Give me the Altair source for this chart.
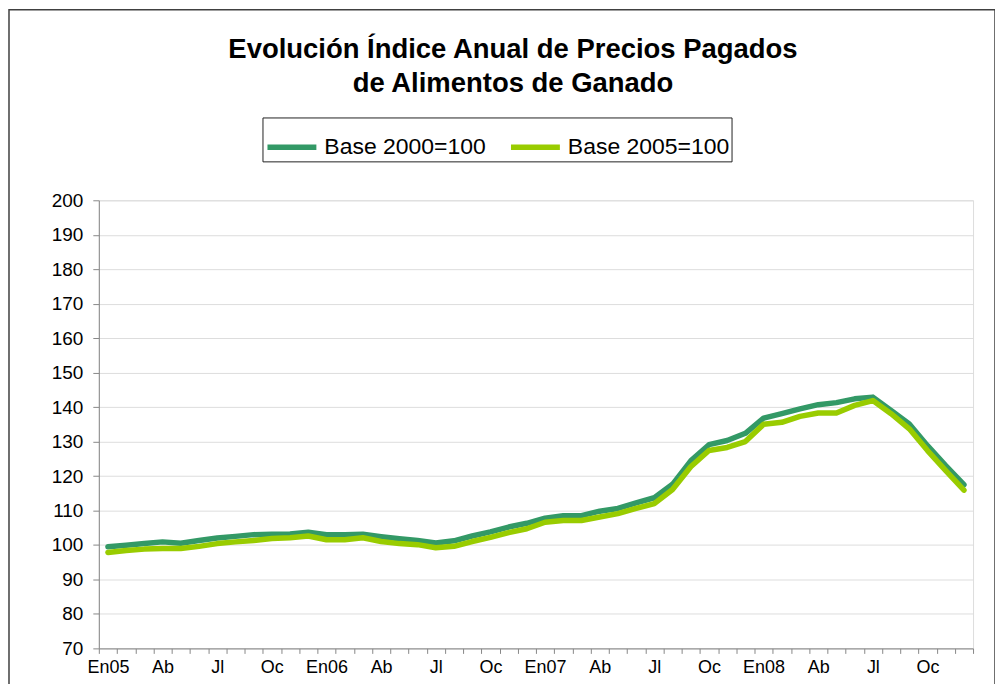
import altair as alt
import pandas as pd

# 48 monthly categories, Jan 2005 - Dec 2008
month_abbr = ["En", "Fb", "Mr", "Ab", "My", "Jn", "Jl", "Ag", "Sp", "Oc", "Nv", "Dc"]
years = ["05", "06", "07", "08"]
categories = [m + y for y in years for m in month_abbr]

# tick labels shown on the axis (category -> text)
label_categories = ["En05", "Ab05", "Jl05", "Oc05", "En06", "Ab06", "Jl06", "Oc06",
                    "En07", "Ab07", "Jl07", "Oc07", "En08", "Ab08", "Jl08", "Oc08"]
tick_labels = ["En05", "Ab", "Jl", "Oc", "En06", "Ab", "Jl", "Oc",
               "En07", "Ab", "Jl", "Oc", "En08", "Ab", "Jl", "Oc"]

series_names = ["Base 2000=100", "Base 2005=100"]

base2000 = [99.5, 99.9, 100.4, 100.9, 100.5, 101.3, 102.0, 102.5, 103.0, 103.1, 103.2, 103.7,
            103.0, 103.0, 103.1, 102.4, 101.8, 101.3, 100.6, 101.2, 102.6, 103.8, 105.2, 106.3,
            107.8, 108.5, 108.5, 109.8, 110.6, 112.2, 113.7, 117.6, 124.4, 129.1, 130.3, 132.4,
            136.8, 138.1, 139.5, 140.7, 141.3, 142.4, 142.9, 139.0, 135.1, 128.8, 123.0, 117.5]

base2005 = [97.8, 98.4, 98.8, 99.0, 99.0, 99.6, 100.4, 100.9, 101.3, 101.9, 102.1, 102.6,
            101.5, 101.5, 102.1, 101.0, 100.4, 100.1, 99.2, 99.6, 101.0, 102.2, 103.6, 104.7,
            106.6, 107.1, 107.1, 108.1, 109.1, 110.6, 112.0, 116.1, 122.7, 127.4, 128.3, 130.0,
            135.0, 135.6, 137.3, 138.3, 138.3, 140.5, 141.9, 138.1, 133.7, 127.4, 121.6, 115.9]

y_ticks = [70, 80, 90, 100, 110, 120, 130, 140, 150, 160, 170, 180, 190, 200]
colors = ["#339966", "#99CC00"]

rows = []
for name, vals in zip(series_names, [base2000, base2005]):
    for c, v in zip(categories, vals):
        rows.append({"mes": c, "serie": name, "valor": v})
df = pd.DataFrame(rows)

label_expr = " : ".join(
    f"datum.value == '{k}' ? '{v}'" for k, v in zip(label_categories, tick_labels)
) + " : ''"

FONT = "Liberation Sans, Arial, sans-serif"

lines = alt.Chart(df).mark_line(strokeWidth=5.5, strokeJoin="round", strokeCap="round").encode(
    x=alt.X("mes:N", sort=categories, bandPosition=0.5,
            scale=alt.Scale(type="band", paddingInner=0, paddingOuter=0),
            axis=alt.Axis(title=None, labelExpr=label_expr, labelAngle=0, grid=False,
                          tickBand="extent", tickSize=5, labelPadding=5,
                          labelFontSize=18)),
    y=alt.Y("valor:Q", scale=alt.Scale(domain=[70, 200], nice=False, zero=False),
            axis=alt.Axis(title=None, values=y_ticks, tickSize=6, labelPadding=10,
                          labelFontSize=19, grid=True)),
    color=alt.Color("serie:N", sort=series_names,
                    scale=alt.Scale(domain=series_names, range=colors),
                    legend=alt.Legend(title=None, orient="none", legendX=164, legendY=-83,
                                      direction="horizontal", symbolType="stroke",
                                      symbolStrokeWidth=5.5, symbolSize=2401,
                                      labelFontSize=23, labelFont=FONT, labelColor="black",
                                      labelLimit=400,
                                      strokeColor="#222222", padding=2, fillColor="white",
                                      columnPadding=14, labelOffset=5)),
    order=alt.Order("serie:N"),
)

frame = alt.Chart(pd.DataFrame({"a": [0]})).mark_rect(
    fillOpacity=0, stroke="#404040", strokeWidth=1.5
).encode(
    x=alt.value(-90), x2=alt.value(898), y=alt.value(-191), y2=alt.value(520)
)

chart = alt.layer(frame, lines).properties(
    width=876, height=449,
    autosize=alt.AutoSizeParams(type="none"),
    padding={"left": 91, "top": 192, "right": 22, "bottom": 35},
    title=alt.TitleParams(
        ["Evolución Índice Anual de Precios Pagados", "de Alimentos de Ganado"],
        anchor="middle", fontSize=27.5, font=FONT, fontWeight="bold", color="black",
        lineHeight=33.5, baseline="alphabetic", offset=0, dx=-23, dy=110.5,
    ),
).configure_view(
    stroke="#888888", strokeWidth=1
).configure_axis(
    labelFont=FONT, labelColor="black", domainColor="black", tickColor="black",
    domainWidth=1, tickWidth=1, gridColor="#c0c0c0", gridWidth=1,
).configure(background="white")

chart.save("out.html", embed_options={"renderer": "svg", "actions": False})
